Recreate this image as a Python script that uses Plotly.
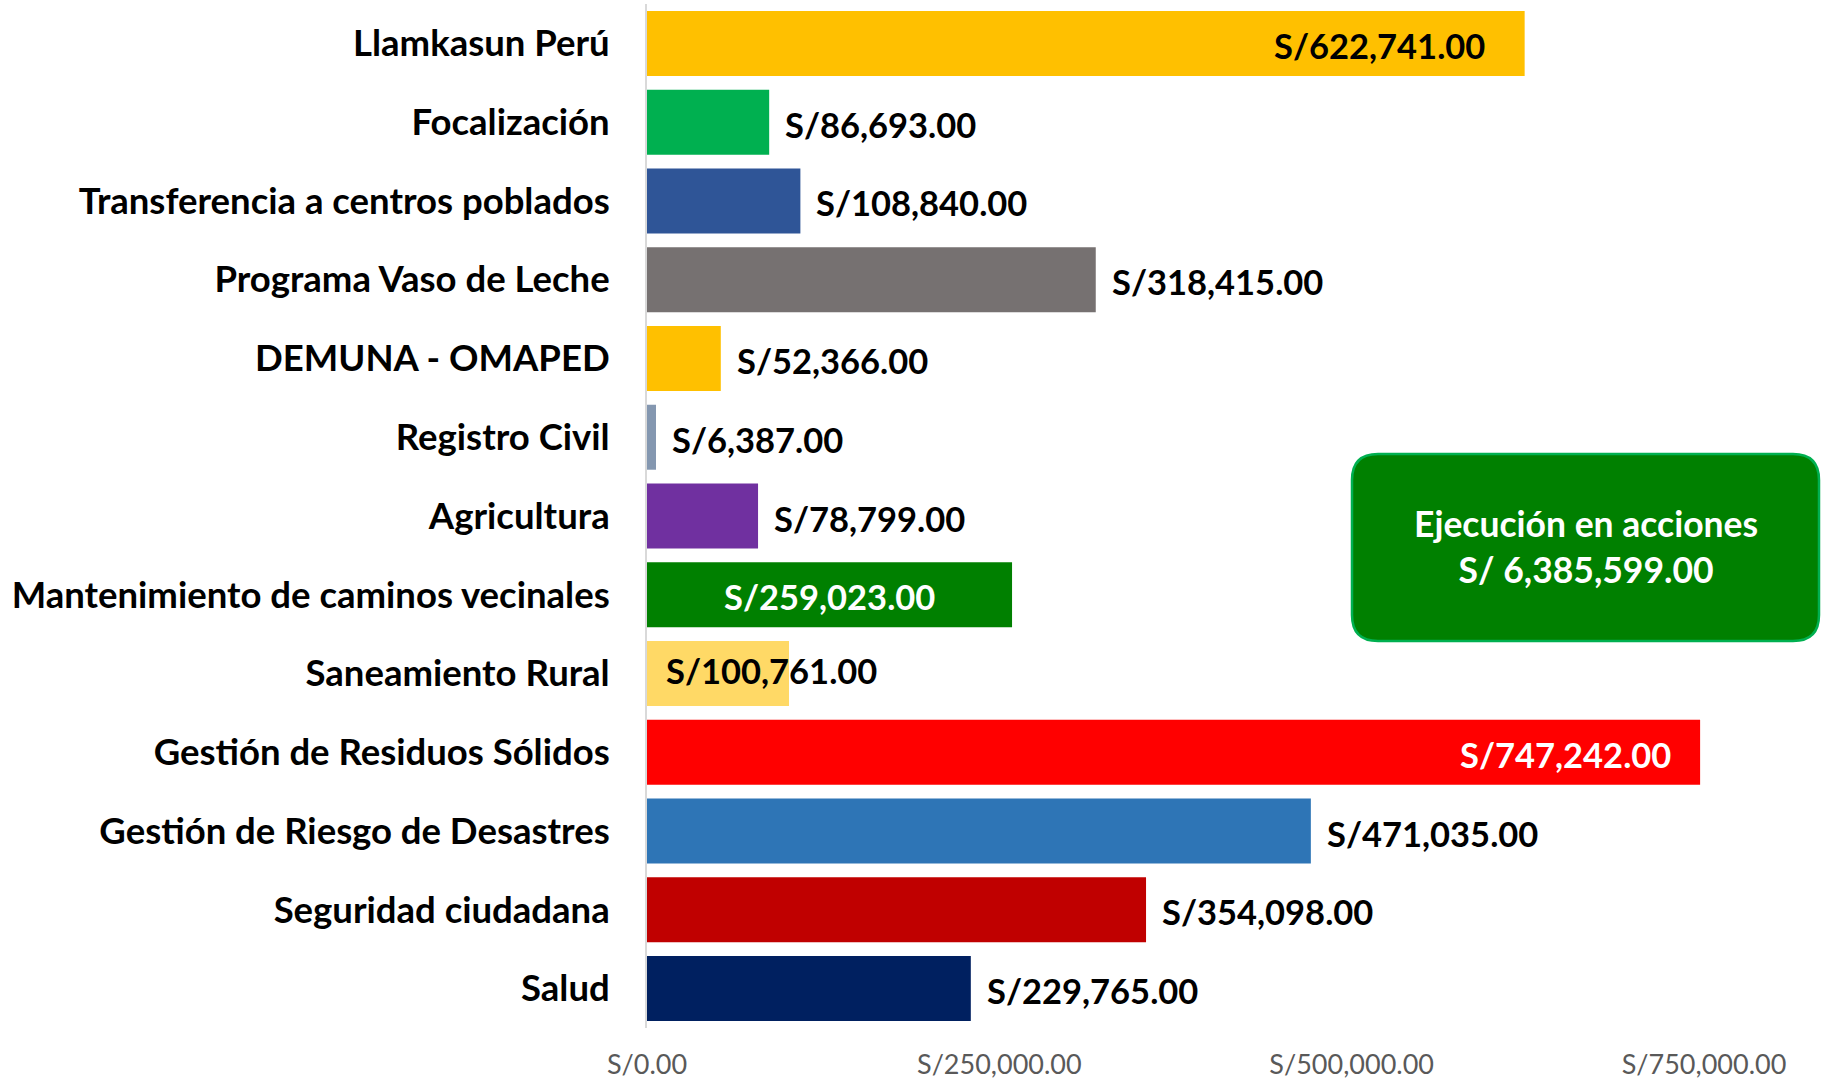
import plotly.graph_objects as go

categories = [
    "Llamkasun Perú", "Focalización", "Transferencia a centros poblados",
    "Programa Vaso de Leche", "DEMUNA - OMAPED", "Registro Civil", "Agricultura",
    "Mantenimiento de caminos vecinales", "Saneamiento Rural",
    "Gestión de Residuos Sólidos", "Gestión de Riesgo de Desastres",
    "Seguridad ciudadana", "Salud",
]
values = [622741, 86693, 108840, 318415, 52366, 6387, 78799,
          259023, 100761, 747242, 471035, 354098, 229765]
colors = ["#FFC000", "#00B050", "#2F5597", "#767171", "#FFC000", "#8497B0", "#7030A0",
          "#008000", "#FFD966", "#FF0000", "#2E75B6", "#C00000", "#002060"]
# label placement: outside / inside_end / center / base
label_pos = ["inside_end", "outside", "outside", "outside", "outside", "outside", "outside",
             "center", "base", "inside_end", "outside", "outside", "outside"]
label_color = ["black", "black", "black", "black", "black", "black", "black",
               "white", "black", "white", "black", "black", "black"]
tick_vals = [0, 250000, 500000, 750000]
tick_text = ["S/0.00", "S/250,000.00", "S/500,000.00", "S/750,000.00"]
total_text = "Ejecución en acciones<br>S/ 6,385,599.00"

W, H = 1822, 1080
ML, MR, MT, MB = 647, 118, 4, 52
PW, PH = W - ML - MR, H - MT - MB

fig = go.Figure(go.Bar(
    x=values, y=categories, orientation="h",
    marker=dict(color=colors, line=dict(width=0)),
    hoverinfo="x+y",
))

FONT = "Lato"
annotations = []
for c, v, p, col in zip(categories, values, label_pos, label_color):
    txt = "S/{:,.2f}".format(v)
    if p == "outside":
        a = dict(x=v, xanchor="left", xshift=14)
    elif p == "inside_end":
        a = dict(x=v, xanchor="right", xshift=-38 if v < 700000 else -27)
    elif p == "center":
        a = dict(x=v / 2, xanchor="center")
    else:
        a = dict(x=0, xanchor="left", xshift=17)
    a.update(y=c, xref="x", yref="y", text=txt, showarrow=False, yanchor="middle",
             yshift=-2 if p != "base" else 3,
             font=dict(family=FONT, size=34.5, color=col, weight="bold"))
    annotations.append(a)

# rounded box (paper coords)
bx0, bx1, by0, by1 = 1352, 1819, 454, 641
r = 26
def px(xp):
    return (xp - ML) / PW
def py(yp):
    return (H - MB - yp) / PH
path = (f"M {px(bx0 + r)},{py(by0)} L {px(bx1 - r)},{py(by0)} "
        f"Q {px(bx1)},{py(by0)} {px(bx1)},{py(by0 + r)} "
        f"L {px(bx1)},{py(by1 - r)} Q {px(bx1)},{py(by1)} {px(bx1 - r)},{py(by1)} "
        f"L {px(bx0 + r)},{py(by1)} Q {px(bx0)},{py(by1)} {px(bx0)},{py(by1 - r)} "
        f"L {px(bx0)},{py(by0 + r)} Q {px(bx0)},{py(by0)} {px(bx0 + r)},{py(by0)} Z")

annotations.append(dict(
    x=px((bx0 + bx1) / 2), y=py((by0 + by1) / 2 - 1), xref="paper", yref="paper",
    text=total_text, showarrow=False, xanchor="center", yanchor="middle",
    font=dict(family=FONT, size=35.5, color="white", weight="bold"),
))

fig.update_layout(
    width=W, height=H,
    margin=dict(l=ML, r=MR, t=MT, b=MB, autoexpand=False),
    paper_bgcolor="white", plot_bgcolor="white",
    bargap=0.175, showlegend=False,
    shapes=[dict(type="path", path=path, xref="paper", yref="paper",
                 fillcolor="#008000", line=dict(color="#00B050", width=2.5), layer="above")],
    annotations=annotations,
    xaxis=dict(range=[0, 750000], tickvals=tick_vals, ticktext=tick_text,
               showgrid=False, zeroline=False, showline=False,
               tickfont=dict(family=FONT, size=27, color="#595959"),
               ticklabelstandoff=18),
    yaxis=dict(categoryorder="array", categoryarray=categories, autorange="reversed",
               showgrid=False, zeroline=False, showline=True, linecolor="#D9D9D9",
               linewidth=2, ticks="",
               tickfont=dict(family=FONT, size=36.5, color="black", weight="bold"),
               ticklabelstandoff=28),
)

fig.write_html("out.html", config={"displayModeBar": False},
               post_script="document.body.style.margin='0';document.body.style.overflow='hidden';")
